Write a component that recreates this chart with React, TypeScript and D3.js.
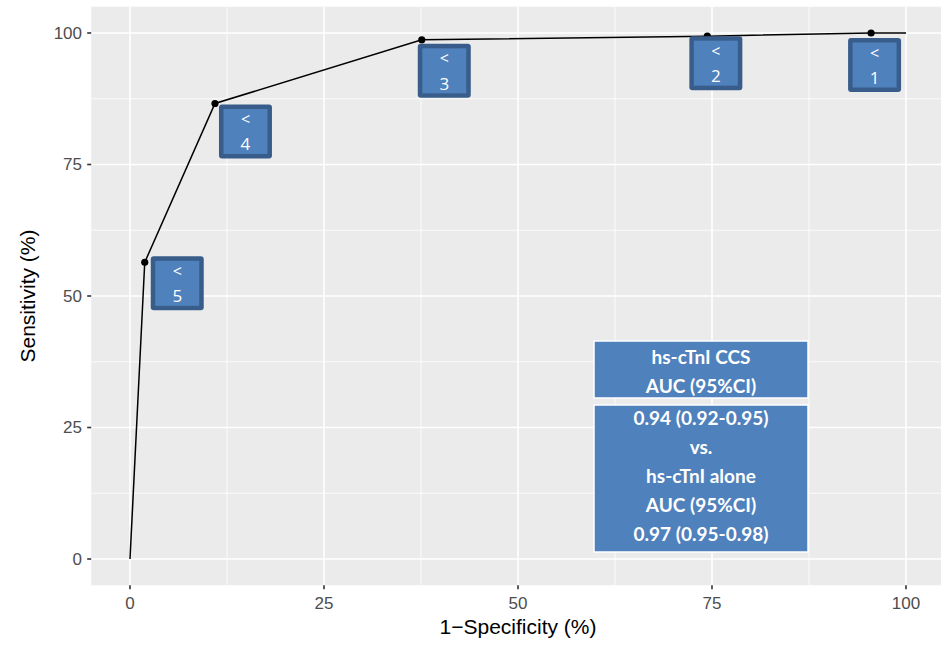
import React from 'react';
import * as d3 from 'd3';

// ROC points (1-specificity %, sensitivity %) and the cut-off shown at each point
const fpr = [0, 1.9, 10.95, 37.6, 74.4, 95.5, 100];
const tpr = [0, 56.4, 86.6, 98.7, 99.4, 100, 100];
const cutoffs = ['', '5', '4', '3', '2', '1', ''];
const markerIdx = [1, 2, 3, 4, 5];
const xTicks = [0, 25, 50, 75, 100];
const yTicks = [0, 25, 50, 75, 100];
const aucTop = ['hs-cTnI CCS', 'AUC (95%CI)'];
const aucBottom = ['0.94 (0.92-0.95)', 'vs.', 'hs-cTnI alone', 'AUC (95%CI)', '0.97 (0.95-0.98)'];

// where each cut-off box sits relative to its point (px)
const LABEL_OFFSETS: Record<string, [number, number]> = {
  '5': [6, -6],
  '4': [4, 1],
  '3': [-4, 4],
  '2': [-18, 0],
  '1': [-23, 5],
};

const W = 941;
const H = 645;
const BOX_FILL = '#4f81bd';
const BOX_EDGE = '#385d8a';
const AXIS_FONT = 'Liberation Sans, Arial, sans-serif';

export default function App() {
  const x = d3.scaleLinear().domain([-5, 105]).range([91.2, 944.8]);
  const y = d3.scaleLinear().domain([-5, 105]).range([585.3, 6.7]);

  const line = d3
    .line<number>()
    .x((_, i) => x(fpr[i]))
    .y((_, i) => y(tpr[i]));

  const minorX = xTicks.slice(0, -1).map(t => t + 12.5);
  const minorY = yTicks.slice(0, -1).map(t => t + 12.5);

  const [px0, px1] = x.range();
  const [py0, py1] = y.range();

  const boxX = 594, boxW = 214;
  const topY = 341, topH = 57;
  const botY = 405, botH = 147;

  return (
    <div style={{ position: 'absolute', left: 0, top: 0 }}>
      <svg width={W} height={H} style={{ display: 'block', background: '#fff' }}>
        {/* panel */}
        <rect x={px0} y={py1} width={px1 - px0} height={py0 - py1} fill="#ebebeb" />
        {minorX.map(t => (
          <line key={'mx' + t} x1={x(t)} x2={x(t)} y1={py1} y2={py0} stroke="#fff" strokeWidth={0.8} />
        ))}
        {minorY.map(t => (
          <line key={'my' + t} x1={px0} x2={px1} y1={y(t)} y2={y(t)} stroke="#fff" strokeWidth={0.8} />
        ))}
        {xTicks.map(t => (
          <line key={'gx' + t} x1={x(t)} x2={x(t)} y1={py1} y2={py0} stroke="#fff" strokeWidth={1.6} />
        ))}
        {yTicks.map(t => (
          <line key={'gy' + t} x1={px0} x2={px1} y1={y(t)} y2={y(t)} stroke="#fff" strokeWidth={1.6} />
        ))}

        {/* axes */}
        {xTicks.map(t => (
          <g key={'tx' + t}>
            <line x1={x(t)} x2={x(t)} y1={py0} y2={py0 + 4} stroke="#333" strokeWidth={1.6} />
            <text x={x(t)} y={603} dy="0.35em" textAnchor="middle" fontFamily={AXIS_FONT} fontSize={17} fill="#4d4d4d">
              {t}
            </text>
          </g>
        ))}
        {yTicks.map(t => (
          <g key={'ty' + t}>
            <line x1={px0 - 4} x2={px0} y1={y(t)} y2={y(t)} stroke="#333" strokeWidth={1.6} />
            <text x={82} y={y(t)} dy="0.35em" textAnchor="end" fontFamily={AXIS_FONT} fontSize={17} fill="#4d4d4d">
              {t}
            </text>
          </g>
        ))}
        <text x={518} y={634} textAnchor="middle" fontFamily={AXIS_FONT} fontSize={21} fill="#000">
          1−Specificity (%)
        </text>
        <text transform={`translate(35, 296) rotate(-90)`} textAnchor="middle" fontFamily={AXIS_FONT} fontSize={21} fill="#000">
          Sensitivity (%)
        </text>

        {/* ROC curve */}
        <path d={line(fpr) || ''} fill="none" stroke="#000" strokeWidth={1.5} />
        {markerIdx.map(i => (
          <circle key={'p' + i} cx={x(fpr[i])} cy={y(tpr[i])} r={3.6} fill="#000" />
        ))}

        {/* cut-off boxes */}
        {markerIdx.map(i => {
          const c = cutoffs[i];
          const [dx, dy] = LABEL_OFFSETS[c];
          const bx = x(fpr[i]) + dx;
          const by = y(tpr[i]) + dy;
          return (
            <g key={'b' + i}>
              <rect x={bx} y={by} width={53} height={54} rx={3} fill={BOX_EDGE} />
              <rect x={bx + 4.5} y={by + 4.5} width={44} height={45} fill={BOX_FILL} />
              <text x={bx + 26.5} y={by + 15} dy="0.35em" textAnchor="middle" fontFamily="Open Sans, sans-serif" fontSize={16} fill="#fff">
                {'<'}
              </text>
              <text x={bx + 26.5} y={by + 40} dy="0.35em" textAnchor="middle" fontFamily="Open Sans, sans-serif" fontSize={17} fill="#fff">
                {c}
              </text>
            </g>
          );
        })}

        {/* AUC boxes */}
        <rect x={boxX} y={topY} width={boxW} height={topH} fill={BOX_FILL} stroke="#fff" strokeWidth={1.5} />
        <rect x={boxX} y={botY} width={boxW} height={botH} fill={BOX_FILL} stroke="#fff" strokeWidth={1.5} />
        {aucTop.map((s, i) => (
          <text key={'at' + i} x={boxX + boxW / 2} y={357 + i * 29} dy="0.35em" textAnchor="middle" fontFamily="Lato, sans-serif" fontWeight="bold" fontSize={19} fill="#fff">
            {s}
          </text>
        ))}
        {aucBottom.map((s, i) => (
          <text key={'ab' + i} x={boxX + boxW / 2} y={418 + i * 29} dy="0.35em" textAnchor="middle" fontFamily="Lato, sans-serif" fontWeight="bold" fontSize={19} fill="#fff">
            {s}
          </text>
        ))}
      </svg>
    </div>
  );
}
